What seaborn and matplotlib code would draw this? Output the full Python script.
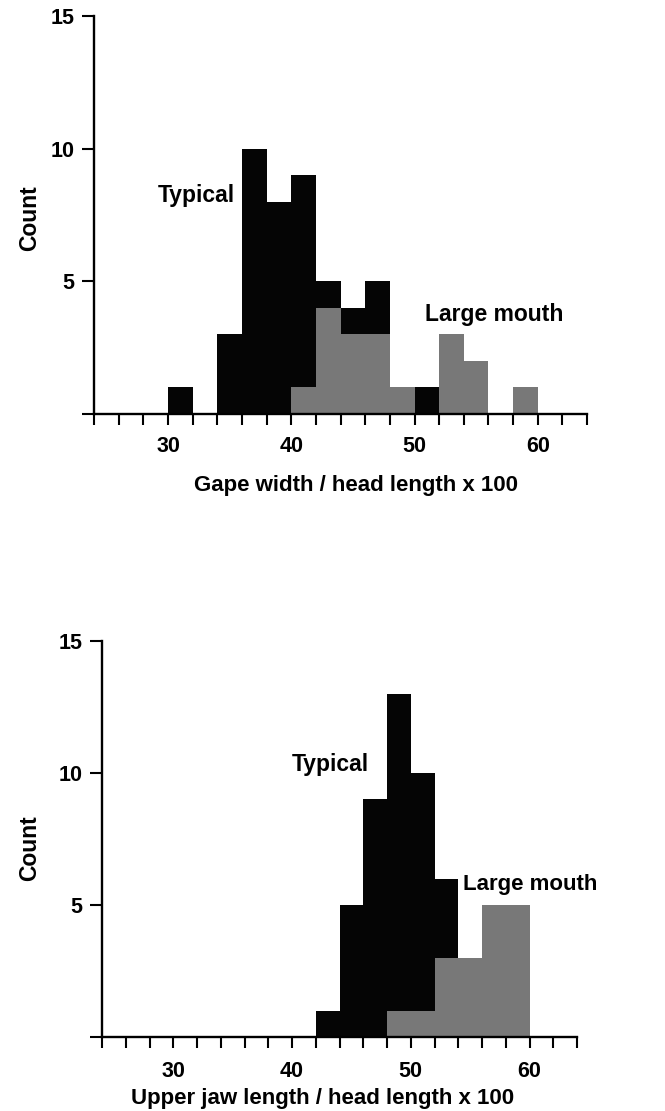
import numpy as np
import pandas as pd
import matplotlib
matplotlib.use("Agg")
import matplotlib.pyplot as plt
import seaborn as sns

# ---- data ----
bin_mid = [25, 27, 29, 31, 33, 35, 37, 39, 41, 43, 45, 47, 49, 51, 53, 55, 57, 59, 61, 63]
bin_edges = [24, 26, 28, 30, 32, 34, 36, 38, 40, 42, 44, 46, 48, 50, 52, 54, 56, 58, 60, 62, 64]

gape_typical = [0, 0, 0, 1, 0, 3, 10, 8, 9, 5, 4, 5, 0, 1, 0, 0, 0, 0, 0, 0]
gape_large = [0, 0, 0, 0, 0, 0, 0, 0, 1, 4, 3, 3, 1, 0, 3, 2, 0, 1, 0, 0]

jaw_typical = [0, 0, 0, 0, 0, 0, 0, 0, 0, 1, 5, 9, 13, 10, 6, 0, 0, 0, 0, 0]
jaw_large = [0, 0, 0, 0, 0, 0, 0, 0, 0, 0, 0, 0, 1, 1, 3, 3, 5, 5, 0, 0]

x_major = [30, 40, 50, 60]
y_ticks = [0, 5, 10, 15]
y_ticklabels = ["", "5", "10", "15"]

group_labels = ["Typical", "Large mouth"]
xlabels = ["Gape width / head length x 100", "Upper jaw length / head length x 100"]
ylabel = "Count"

# ---- style ----
sns.set_style("ticks")
plt.rcParams["font.family"] = ["Liberation Sans", "DejaVu Sans"]
plt.rcParams["font.weight"] = "bold"
for k in ["text.color", "axes.labelcolor", "xtick.color", "ytick.color", "axes.edgecolor"]:
    plt.rcParams[k] = "#000000"

BLACK = "#050505"
GREY = "#787878"

fig = plt.figure(figsize=(6.65, 11.11), dpi=100)
ax1 = fig.add_axes([0.1414, 0.6274, 0.7414, 0.3582])
ax2 = fig.add_axes([0.1534, 0.0666, 0.7143, 0.3564])

panels = [
    (ax1, gape_typical, gape_large, xlabels[0],
     (35.4, 8.25), (50.86, 3.73), (0.531, -0.1935), (-0.13, 0.4925), 8, 16.5),
    (ax2, jaw_typical, jaw_large, xlabels[1],
     (46.5, 10.32), (54.43, 5.78), (0.465, -0.169), (-0.152, 0.477), 9.5, 16),
]

for ax, typ, large, xl, tpos, lpos, xlc, ylc, xpad, lsize in panels:
    df_t = pd.DataFrame({"x": bin_mid, "w": typ})
    df_l = pd.DataFrame({"x": bin_mid, "w": large})
    sns.histplot(data=df_t, x="x", weights="w", bins=bin_edges, color=BLACK,
                 alpha=1, linewidth=0, edgecolor=BLACK, ax=ax)
    sns.histplot(data=df_l, x="x", weights="w", bins=bin_edges, color=GREY,
                 alpha=1, linewidth=0, edgecolor=GREY, ax=ax)

    ax.set_xlim(24, 64)
    ax.set_ylim(0, 15)
    ax.set_xticks(bin_edges)
    ax.set_xticklabels([str(v) if v in x_major else "" for v in bin_edges])
    ax.set_yticks(y_ticks)
    ax.set_yticklabels(y_ticklabels)
    ax.tick_params(axis="both", direction="out", length=8, width=1.5,
                   labelsize=15.5, color="#000000")
    ax.tick_params(axis="x", pad=xpad)
    ax.tick_params(axis="y", pad=5.5, length=8.5)
    for lab in ax.get_xticklabels() + ax.get_yticklabels():
        lab.set_fontweight("bold")

    for s in ["top", "right"]:
        ax.spines[s].set_visible(False)
    for s in ["left", "bottom"]:
        ax.spines[s].set_linewidth(1.7)
        ax.spines[s].set_color("#000000")

    ax.set_xlabel(xl, fontsize=16, fontweight="bold", va="baseline")
    ax.xaxis.set_label_coords(*xlc)
    ax.set_ylabel(ylabel, fontsize=16.5, fontweight="bold", va="center")
    ax.yaxis.set_label_coords(*ylc)

    ax.text(tpos[0], tpos[1], group_labels[0], ha="right", va="center",
            fontsize=16.5, fontweight="bold")
    ax.text(lpos[0], lpos[1], group_labels[1], ha="left", va="center",
            fontsize=lsize, fontweight="bold")

fig.savefig("out.png", dpi=100)
